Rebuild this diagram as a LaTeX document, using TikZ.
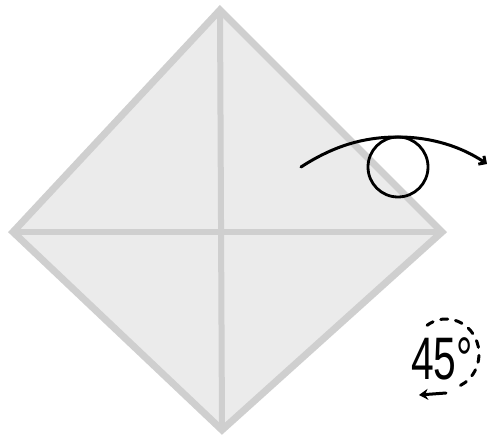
\documentclass[tikz,border=0pt]{standalone}
\usepackage{fontspec}
\setmainfont{Liberation Sans}
\usetikzlibrary{arrows.meta}
\begin{document}
\begin{tikzpicture}[x=1pt,y=-1pt,
  fold/.style={draw=black!19!white, line width=7pt, line join=miter},
  pen/.style={draw=black, line width=3pt, line cap=round},
  dashpen/.style={draw=black, line width=3pt, dash pattern=on 7pt off 8pt, line cap=round}]
\useasboundingbox (0,0) rectangle (488,441);
\coordinate (T) at (220,10);
\coordinate (L) at (13,232);
\coordinate (R) at (442,232);
\coordinate (B) at (222,430);
\fill[black!8!white] (T) -- (R) -- (B) -- (L) -- cycle;
\draw[fold] (T) -- (R) -- (B) -- (L) -- cycle;
\draw[fold, line width=6pt] (T) -- (B);
\draw[fold, line width=6pt] (L) -- (R);
% flip arrow with loop
\coordinate (s) at (301,167);
\coordinate (p) at (398,137);
\coordinate (e) at (487,164);
\draw[pen, -{Straight Barb[length=5pt,width=10pt]}] (s) .. controls (335,145) and (365,137) .. (p) .. controls (432,137) and (462,147) .. (e);
\node[circle, draw=black, line width=2.8pt, minimum size=60pt, inner sep=0pt] (loop) at (398,167) {};
% rotate 45 degrees
\coordinate (c) at (446,354);
\node[font=\fontsize{60}{60}\selectfont, xscale=0.68, inner sep=0pt, anchor=base west] (ang) at (411,379) {45°};
\draw[dashpen] ([shift={(-125:33 and 35)}]c) arc[start angle=-125, end angle=65, x radius=33, y radius=35];
\draw[pen, -{Stealth[length=9pt,width=11pt]}] (446,393) -- (419,395);
\end{tikzpicture}
\end{document}
